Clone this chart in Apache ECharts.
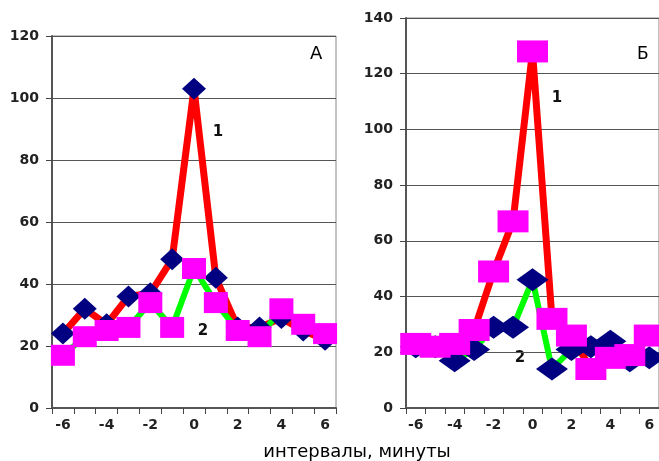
<!DOCTYPE html>
<html><head><meta charset="utf-8">
<script src="https://cdn.jsdelivr.net/npm/echarts@6/dist/echarts.min.js"></script>
<style>html,body{margin:0;padding:0;background:#fff}#c{width:659px;height:461px}</style>
</head><body><div id="c"></div>
<script>
const categories = ['-6','-5','-4','-3','-2','-1','0','1','2','3','4','5','6'];
// Panel A
const a1 = [24, 32, 27, 36, 37, 48, 103, 42, 26, 26, 29, 25, 22]; // red line, navy diamonds
const a2 = [17, 23, 25, 26, 34, 26, 45, 34, 25, 23, 32, 27, 24]; // green line, magenta squares
// Panel Б
const b1 = [23, 22, 23, 28, 49, 67, 128, 32, 26, 14, 18, 19, 26]; // red line, magenta squares
const b2 = [22, 22, 17, 21, 29, 29, 46, 14, 21, 22, 24, 17, 18]; // green line, navy diamonds
const yTicksA = {min: 0, max: 120, interval: 20};
const yTicksB = {min: 0, max: 140, interval: 20};
const xTitle = 'интервалы, минуты';

const FONT = 'DejaVu Sans';
const lbl = {color: '#222', fontFamily: FONT, fontWeight: 'bold', fontSize: 14};
function xAxis(gi){
  return {type:'category', gridIndex:gi, data:categories, boundaryGap:true,
    axisLine:{show:true, lineStyle:{color:'#555', width:2}},
    axisTick:{show:true, interval:0, length:6, lineStyle:{color:'#444', width:1}},
    axisLabel:Object.assign({interval:1, margin:10}, lbl),
    splitLine:{show:false}};
}
function yAxis(gi, t){
  return {type:'value', gridIndex:gi, min:t.min, max:t.max, interval:t.interval,
    axisLine:{show:true, lineStyle:{color:'#555', width:2}},
    axisTick:{show:true, length:6, lineStyle:{color:'#444', width:1}},
    axisLabel:Object.assign({margin:13}, lbl),
    splitLine:{show:true, lineStyle:{color:'#555', width:1}}};
}
function ser(idx, data, lineColor, symbol, symColor, size, w){
  return {type:'line', xAxisIndex:idx, yAxisIndex:idx, data:data,
    lineStyle:{color:lineColor, width:w}, itemStyle:{color:symColor, borderWidth:0},
    symbol:symbol, symbolSize:size, showAllSymbol:true, animation:false};
}
const chart = echarts.init(document.getElementById('c'));
chart.setOption({
  animation:false,
  grid:[
    {left:52, top:36, width:284, height:372, show:true, borderColor:'#888', borderWidth:1, backgroundColor:'#fff'},
    {left:406, top:18, width:256, height:390, show:true, borderColor:'#888', borderWidth:1, backgroundColor:'#fff'}
  ],
  xAxis:[xAxis(0), xAxis(1)],
  yAxis:[yAxis(0, yTicksA), yAxis(1, yTicksB)],
  series:[
    ser(0, a1, '#ff0000', 'diamond', '#000080', [24,22], 7),
    ser(0, a2, '#00ff00', 'rect', '#ff00ff', [24,21], 6),
    ser(1, b2, '#00ff00', 'diamond', '#000080', [32,23], 6),
    ser(1, b1, '#ff0000', 'rect', '#ff00ff', [31,22], 7)
  ],
  graphic:[
    {type:'text', left:310, top:45, style:{text:'А', font:'18px "DejaVu Sans"', fill:'#000'}},
    {type:'text', left:637, top:46, style:{text:'Б', font:'17px "DejaVu Sans"', fill:'#000'}},
    {type:'text', x:218, y:132, style:{text:'1', font:'bold 15px "DejaVu Sans"', fill:'#111', align:'center', verticalAlign:'middle'}},
    {type:'text', x:203, y:331, style:{text:'2', font:'bold 15px "DejaVu Sans"', fill:'#111', align:'center', verticalAlign:'middle'}},
    {type:'text', x:557, y:98, style:{text:'1', font:'bold 15px "DejaVu Sans"', fill:'#111', align:'center', verticalAlign:'middle'}},
    {type:'text', x:520, y:358, style:{text:'2', font:'bold 15px "DejaVu Sans"', fill:'#111', align:'center', verticalAlign:'middle', backgroundColor:'#fff', padding:[0,3]}},
    {type:'text', x:357, y:452, style:{text:xTitle, font:'18px "DejaVu Sans"', fill:'#000', align:'center', verticalAlign:'middle'}}
  ]
});
</script></body></html>
